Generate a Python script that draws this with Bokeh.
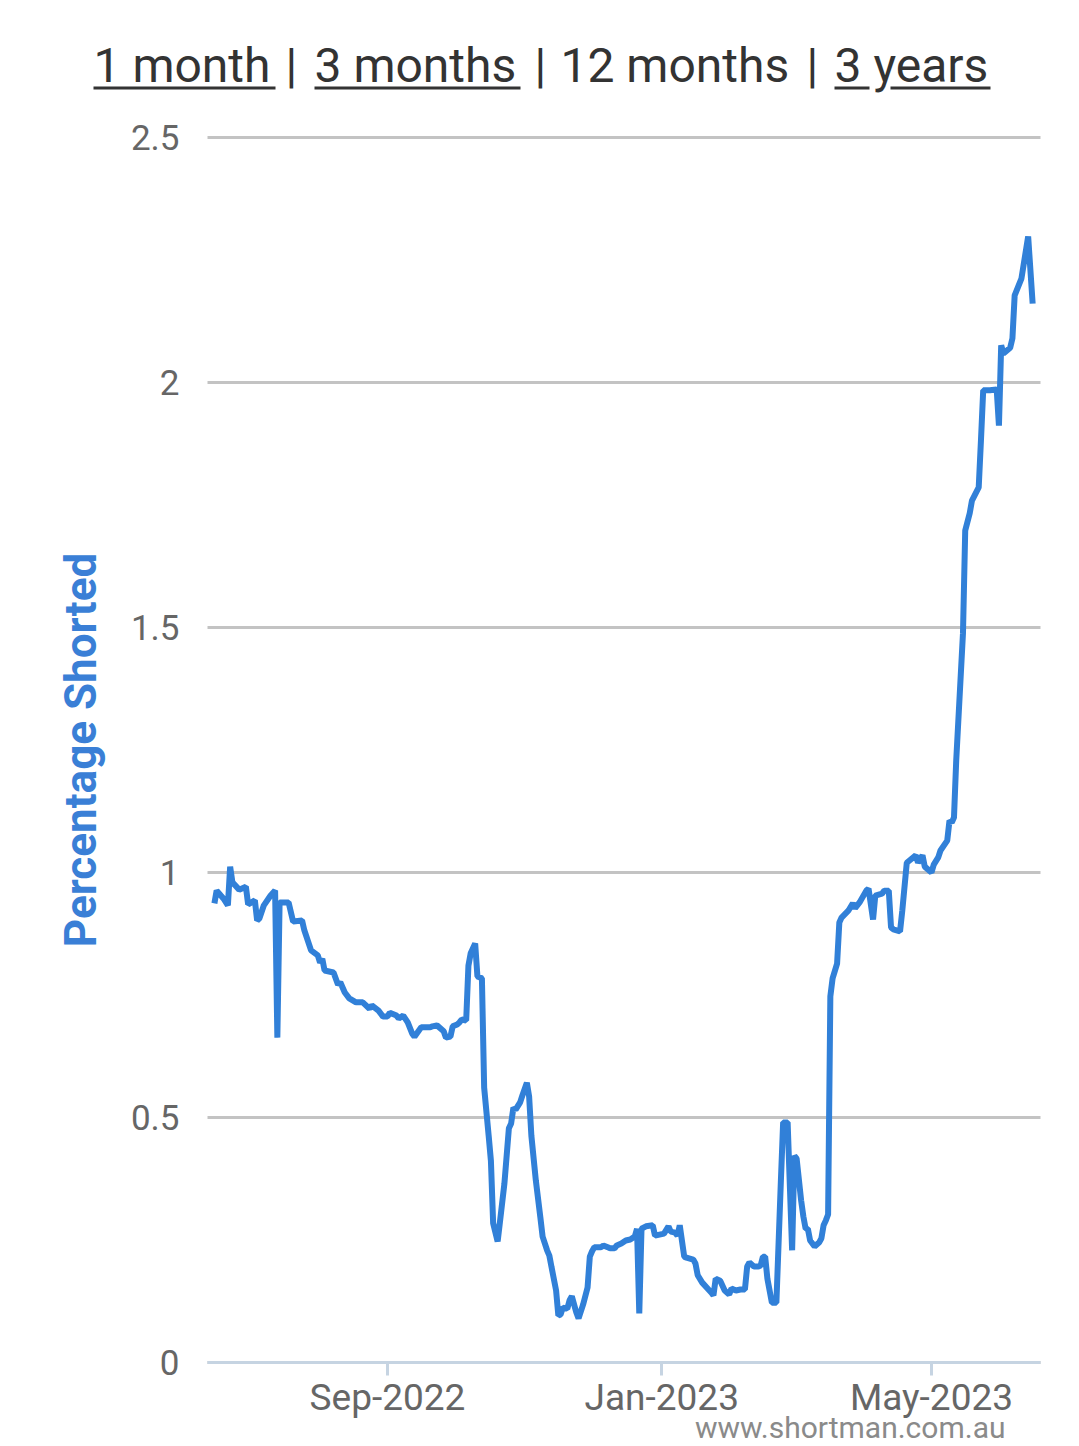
import math
import pandas as pd
from bokeh.plotting import figure
from bokeh.models import (ColumnDataSource, Range1d, FixedTicker, Label, BoxAnnotation)
from bokeh.embed import file_html
from bokeh.resources import INLINE

# ---------------- data ----------------
dates = [
    "2022-06-16", "2022-06-17", "2022-06-20", "2022-06-22", "2022-06-23", "2022-06-24",
    "2022-06-27", "2022-06-30", "2022-07-01", "2022-07-04", "2022-07-05", "2022-07-06",
    "2022-07-08", "2022-07-11", "2022-07-13", "2022-07-14", "2022-07-15", "2022-07-19",
    "2022-07-21", "2022-07-25", "2022-07-26", "2022-07-29", "2022-08-01", "2022-08-02",
    "2022-08-03", "2022-08-04", "2022-08-08", "2022-08-10", "2022-08-11", "2022-08-13",
    "2022-08-15", "2022-08-18", "2022-08-21", "2022-08-24", "2022-08-25", "2022-08-28",
    "2022-08-30", "2022-09-01", "2022-09-02", "2022-09-05", "2022-09-06", "2022-09-08",
    "2022-09-10", "2022-09-12", "2022-09-13", "2022-09-16", "2022-09-18", "2022-09-20",
    "2022-09-21", "2022-09-23", "2022-09-26", "2022-09-27", "2022-09-29", "2022-09-30",
    "2022-10-02", "2022-10-03", "2022-10-04", "2022-10-06", "2022-10-07", "2022-10-08",
    "2022-10-10", "2022-10-11", "2022-10-13", "2022-10-14", "2022-10-16", "2022-10-17",
    "2022-10-18", "2022-10-20", "2022-10-21", "2022-10-23", "2022-10-25", "2022-10-26",
    "2022-10-27", "2022-10-28", "2022-10-30", "2022-10-31", "2022-11-02", "2022-11-03",
    "2022-11-04", "2022-11-06", "2022-11-08", "2022-11-09", "2022-11-11", "2022-11-12",
    "2022-11-13", "2022-11-15", "2022-11-16", "2022-11-17", "2022-11-18", "2022-11-20",
    "2022-11-21", "2022-11-22", "2022-11-24", "2022-11-25", "2022-11-27", "2022-11-29",
    "2022-11-30", "2022-12-01", "2022-12-02", "2022-12-05", "2022-12-06", "2022-12-08",
    "2022-12-09", "2022-12-11", "2022-12-12", "2022-12-14", "2022-12-16", "2022-12-18",
    "2022-12-20", "2022-12-21", "2022-12-22", "2022-12-23", "2022-12-25", "2022-12-28",
    "2022-12-29", "2022-12-31", "2023-01-02", "2023-01-04", "2023-01-05", "2023-01-07",
    "2023-01-08", "2023-01-09", "2023-01-11", "2023-01-12", "2023-01-15", "2023-01-16",
    "2023-01-17", "2023-01-19", "2023-01-23", "2023-01-24", "2023-01-25", "2023-01-27",
    "2023-01-29", "2023-01-31", "2023-02-01", "2023-02-03", "2023-02-05", "2023-02-07",
    "2023-02-08", "2023-02-09", "2023-02-11", "2023-02-13", "2023-02-14", "2023-02-15",
    "2023-02-16", "2023-02-17", "2023-02-19", "2023-02-21", "2023-02-23", "2023-02-24",
    "2023-02-26", "2023-02-28", "2023-03-01", "2023-03-02", "2023-03-04", "2023-03-05",
    "2023-03-06", "2023-03-07", "2023-03-08", "2023-03-10", "2023-03-12", "2023-03-13",
    "2023-03-14", "2023-03-15", "2023-03-16", "2023-03-17", "2023-03-18", "2023-03-20",
    "2023-03-21", "2023-03-22", "2023-03-25", "2023-03-27", "2023-03-28", "2023-03-30",
    "2023-04-02", "2023-04-03", "2023-04-05", "2023-04-06", "2023-04-09", "2023-04-10",
    "2023-04-12", "2023-04-13", "2023-04-14", "2023-04-17", "2023-04-18", "2023-04-20",
    "2023-04-24", "2023-04-25", "2023-04-27", "2023-04-28", "2023-05-01", "2023-05-02",
    "2023-05-04", "2023-05-05", "2023-05-08", "2023-05-09", "2023-05-10", "2023-05-11",
    "2023-05-12", "2023-05-15", "2023-05-16", "2023-05-18", "2023-05-19", "2023-05-22",
    "2023-05-23", "2023-05-24", "2023-05-27", "2023-05-30", "2023-05-31", "2023-06-01",
    "2023-06-02", "2023-06-05", "2023-06-06", "2023-06-07", "2023-06-10", "2023-06-13",
    "2023-06-15",
]
pct_shorted = [
    0.937, 0.963, 0.947, 0.933, 1.012, 0.980,
    0.965, 0.971, 0.935, 0.943, 0.902, 0.906,
    0.933, 0.953, 0.963, 0.663, 0.939, 0.939,
    0.900, 0.902, 0.882, 0.841, 0.831, 0.816,
    0.824, 0.800, 0.796, 0.771, 0.776, 0.755,
    0.743, 0.735, 0.735, 0.722, 0.729, 0.718,
    0.706, 0.706, 0.714, 0.708, 0.702, 0.708,
    0.694, 0.671, 0.665, 0.684, 0.684, 0.684,
    0.686, 0.688, 0.676, 0.663, 0.665, 0.686,
    0.690, 0.694, 0.700, 0.698, 0.810, 0.835,
    0.855, 0.788, 0.784, 0.561, 0.463, 0.412,
    0.284, 0.247, 0.286, 0.365, 0.478, 0.488,
    0.520, 0.516, 0.531, 0.545, 0.571, 0.543,
    0.463, 0.371, 0.296, 0.257, 0.229, 0.218,
    0.194, 0.147, 0.096, 0.098, 0.112, 0.110,
    0.127, 0.135, 0.102, 0.090, 0.118, 0.153,
    0.216, 0.227, 0.235, 0.235, 0.239, 0.235,
    0.233, 0.233, 0.239, 0.243, 0.249, 0.251,
    0.257, 0.273, 0.100, 0.273, 0.278, 0.280,
    0.259, 0.261, 0.263, 0.278, 0.267, 0.265,
    0.259, 0.280, 0.216, 0.214, 0.210, 0.202,
    0.178, 0.163, 0.143, 0.137, 0.171, 0.167,
    0.147, 0.139, 0.151, 0.147, 0.149, 0.149,
    0.196, 0.204, 0.196, 0.196, 0.198, 0.216,
    0.216, 0.171, 0.122, 0.122, 0.371, 0.490,
    0.490, 0.229, 0.422, 0.416, 0.331, 0.298,
    0.273, 0.273, 0.249, 0.237, 0.245, 0.253,
    0.280, 0.290, 0.302, 0.747, 0.784, 0.814,
    0.898, 0.908, 0.922, 0.937, 0.927, 0.939,
    0.963, 0.967, 0.904, 0.953, 0.957, 0.963,
    0.963, 0.888, 0.884, 0.880, 0.922, 1.020,
    1.035, 1.020, 1.035, 1.012, 1.000, 1.016,
    1.031, 1.045, 1.065, 1.106, 1.102, 1.112,
    1.229, 1.488, 1.698, 1.733, 1.759, 1.786,
    1.882, 1.984, 1.984, 1.986, 1.912, 2.076,
    2.059, 2.071, 2.090, 2.178, 2.212, 2.298,
    2.161,
]

title_parts = ["1 month", "|", "3 months", "|", "12 months", "|", "3 years"]
xtick_dates = ["2022-09-01", "2023-01-01", "2023-05-01"]
xtick_labels = ["Sep-2022", "Jan-2023", "May-2023"]
ytick_values = [0, 0.5, 1, 1.5, 2, 2.5]
ytick_labels = ["0", "0.5", "1", "1.5", "2", "2.5"]
y_axis_title = "Percentage Shorted"
watermark = "www.shortman.com.au"

# ---------------- layout constants (canvas pixels) ----------------
W, H = 1075, 1446
PLOT_L, PLOT_R, PLOT_T, PLOT_B = 207, 1040, 137, 1362   # plotting area edges
LINE_BLUE = "#3180d8"
FONT = "Roboto"

def ms(s):
    return pd.Timestamp(s).value / 1e6

tick_ms = [ms(d) for d in xtick_dates]
# horizontal scale from the Sep-2022 and May-2023 tick positions (387px, 931px)
ms_per_px = (tick_ms[2] - tick_ms[0]) / (931 - 387)
y_per_px = (ytick_values[-1] - ytick_values[0]) / (PLOT_B - PLOT_T)
x_start = tick_ms[0] - 387 * ms_per_px
x_end = tick_ms[0] + (W - 387) * ms_per_px
y_top = PLOT_B * y_per_px
y_bottom = (PLOT_B - H) * y_per_px

def ax(px):
    return x_start + px * ms_per_px

def ay(py):
    return (PLOT_B - py) * y_per_px

source = ColumnDataSource(data=dict(date=pd.to_datetime(dates), value=pct_shorted))

# the frame covers the whole canvas so that titles and labels are never clipped
p = figure(width=W, height=H, x_axis_type="datetime", output_backend="svg",
           toolbar_location=None, tools="",
           x_range=Range1d(x_start, x_end), y_range=Range1d(y_bottom, y_top),
           min_border_left=0, min_border_right=0, min_border_top=0, min_border_bottom=0)
p.outline_line_color = None
p.background_fill_color = "white"
p.border_fill_color = "white"
p.xgrid.grid_line_color = None
p.ygrid.grid_line_color = None

# horizontal grid lines across the plotting area
grid_src = ColumnDataSource(data=dict(
    x0=[ax(PLOT_L)] * len(ytick_values), x1=[ax(PLOT_R)] * len(ytick_values),
    y=ytick_values))
p.segment(x0="x0", y0="y", x1="x1", y1="y", source=grid_src,
          line_color="#c3c3c3", line_width=3, level="underlay")

# y axis
p.yaxis.fixed_location = ax(PLOT_L)
p.yaxis.ticker = FixedTicker(ticks=ytick_values)
p.yaxis.major_label_overrides = {v: l for v, l in zip(ytick_values, ytick_labels)}
p.yaxis.axis_line_color = None
p.yaxis.major_tick_line_color = None
p.yaxis.minor_tick_line_color = None
p.yaxis.major_tick_out = 0
p.yaxis.major_tick_in = 0
p.yaxis.major_label_standoff = 28
p.yaxis.major_label_text_font = FONT
p.yaxis.major_label_text_font_size = "35px"
p.yaxis.major_label_text_color = "#666666"

# y axis title, centred on the plotting area
p.add_layout(Label(x=ax(80), y=ay((PLOT_T + PLOT_B) / 2), text=y_axis_title,
                   angle=math.pi / 2, text_font=FONT, text_font_style="bold",
                   text_font_size="44px", text_color="#3a7fd6",
                   text_align="center", text_baseline="middle"))

# x axis
p.xaxis.fixed_location = 0
p.xaxis.bounds = (ax(PLOT_L), ax(PLOT_R))
p.xaxis.ticker = FixedTicker(ticks=tick_ms)
p.xaxis.major_label_overrides = {t: l for t, l in zip(tick_ms, xtick_labels)}
p.xaxis.axis_line_color = "#c6d4e2"
p.xaxis.axis_line_width = 3
p.xaxis.major_tick_line_color = "#c6d4e2"
p.xaxis.major_tick_line_width = 3
p.xaxis.major_tick_out = 13
p.xaxis.major_tick_in = 0
p.xaxis.minor_tick_line_color = None
p.xaxis.major_label_standoff = 0
p.xaxis.major_label_text_font = FONT
p.xaxis.major_label_text_font_size = "37px"
p.xaxis.major_label_text_color = "#666666"

# series
p.line(x="date", y="value", source=source, line_color=LINE_BLUE, line_width=6,
       line_join="bevel")

# title links
title_left_px = [93, 285, 314, 534, 560, 806, 834]
for part, left in zip(title_parts, title_left_px):
    p.add_layout(Label(x=ax(left), y=ay(65), text=part, text_font=FONT,
                       text_font_size="48px", text_color="#333333",
                       text_align="left", text_baseline="alphabetic"))
# underlines of the link parts (the "y" descender interrupts the last one)
underline_spans = [(93, 275), (314, 520), (834, 869), (890, 990)]
for l, r in underline_spans:
    p.add_layout(BoxAnnotation(left=ax(l), right=ax(r), top=ay(86), bottom=ay(89),
                               fill_color="#333333", fill_alpha=1.0, line_color=None,
                               level="overlay"))

# watermark
p.add_layout(Label(x=ax(1005), y=ay(1427), text=watermark, text_font=FONT,
                   text_font_size="30px", text_color="#8a8a8a",
                   text_align="right", text_baseline="middle"))

open("out.html", "w").write(file_html(p, INLINE))
